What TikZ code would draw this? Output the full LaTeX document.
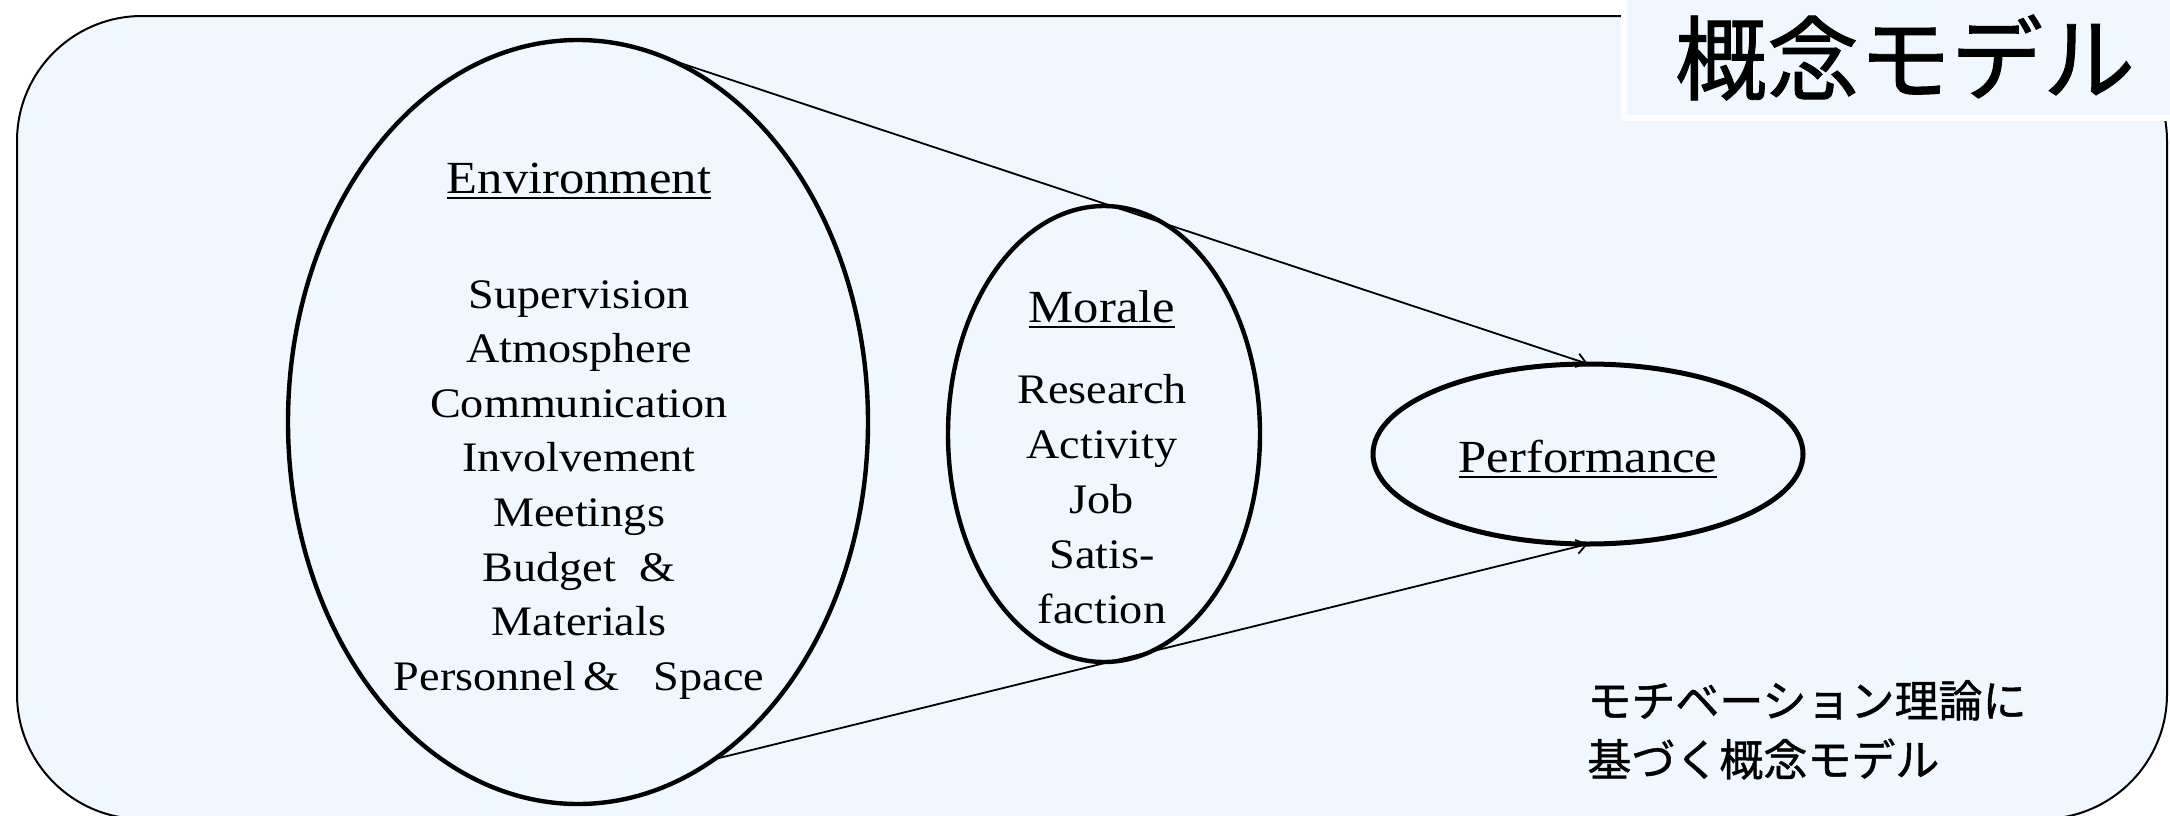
\documentclass[tikz,border=0pt]{standalone}
\usepackage{fontspec}
\setmainfont[FakeStretch=1.1]{Liberation Serif}
\newfontfamily\cjk[FakeBold=1]{Noto Sans CJK JP}
\usetikzlibrary{arrows.meta,shapes.geometric}
\definecolor{bgblue}{RGB}{240,247,255}
\newcommand{\ulbox}[1]{\leavevmode\vtop{\hbox{#1}\kern1.6pt\hrule height 1.2pt}}
\tikzset{
  oval/.style={ellipse, draw=black, line width=2.2pt, inner sep=0pt, outer sep=0pt},
  ttl/.style={anchor=base, font=\fontsize{23}{27}\selectfont, inner sep=0pt},
  item/.style={anchor=base, font=\fontsize{21}{26}\selectfont, inner sep=0pt},
  link/.style={line width=0.9pt, -{Straight Barb[length=5pt,width=7pt]}},
  jp/.style={anchor=base west, font=\cjk\fontsize{22}{29}\selectfont, inner sep=0pt},
}
\begin{document}
\begin{tikzpicture}[x=0.5pt,y=-0.5pt]
\useasboundingbox (0,0) rectangle (2170,815);
\fill[white] (0,0) rectangle (2170,815);
% frame
\draw[line width=1pt, fill=bgblue, rounded corners=62.5pt] (17,16) rectangle (2167,819);
% title box
\node[rectangle, draw=white, fill=bgblue, line width=3pt, inner sep=0pt, outer sep=0pt,
      minimum width=279pt, minimum height=65pt, anchor=north west] (titlebox) at (1624,-12) {};
\node[anchor=base, font=\cjk\fontsize{46}{50}\selectfont, inner sep=0pt] (title) at (1905,93) {概念モデル};
% ellipses
\node[oval, minimum width=290pt, minimum height=382pt] (env) at (578,422) {};
\node[oval, minimum width=156pt, minimum height=228pt] (mor) at (1104,434) {};
\node[oval, minimum width=215pt, minimum height=90pt, line width=2.5pt] (perf) at (1588,454) {};
% connectors
\draw[link] (env.76.2) -- (perf.north);
\draw[link] (env.-68.2) -- (perf.south);
% environment texts
\node[ttl] (envt) at (579,193) {\ulbox{Environment}};
\foreach \t/\y/\n in {Supervision/308/e1, Atmosphere/362/e2, Communication/417/e3,
  Involvement/471/e4, Meetings/526/e5, Budget\ \ \&/581/e6, Materials/635/e7,
  Personnel\,\&\ \ \ Space/690/e8}
  \node[item] (\n) at (579,\y) {\t};
% morale texts
\node[ttl] (mort) at (1102,322) {\ulbox{Morale}};
\foreach \t/\y/\n in {Research/403/m1, Activity/458/m2, Job/513/m3, Satis-/568/m4, faction/623/m5}
  \node[item] (\n) at (1102,\y) {\t};
% performance text
\node[ttl] (perft) at (1588,472) {\ulbox{Performance}};
% japanese note
\node[jp] (jp1) at (1587,717) {モチベーション理論に};
\node[jp] (jp2) at (1587,776) {基づく概念モデル};
\end{tikzpicture}
\end{document}
